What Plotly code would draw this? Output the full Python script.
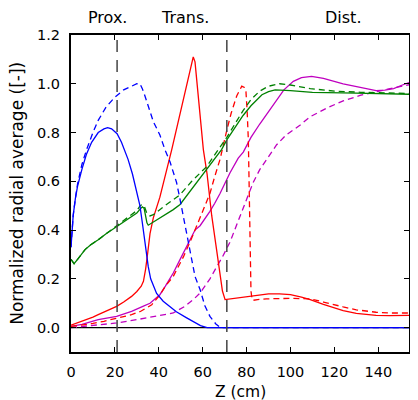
import plotly.graph_objects as go

# ---- data (Z in cm, normalized radial average) ----
blue_solid_z = [0, 0.5, 1, 2, 3, 5, 7, 9.4, 12.4, 15, 16.7, 18.5, 21, 23, 26, 28, 30.5, 31.4, 32.5, 33.7, 34.5, 35.2, 36.3, 37.5, 39, 42, 45, 48, 52.7, 56, 59, 62, 155]
blue_solid_v = [0.33, 0.40, 0.46, 0.53, 0.58, 0.65, 0.71, 0.76, 0.80, 0.815, 0.82, 0.815, 0.795, 0.76, 0.69, 0.63, 0.54, 0.50, 0.43, 0.35, 0.29, 0.25, 0.20, 0.17, 0.14, 0.108, 0.085, 0.065, 0.04, 0.022, 0.008, 0, 0]

blue_dash_z = [0, 1, 2, 3, 5, 7.1, 10, 12.4, 16, 20, 24, 27.6, 30, 31.4, 32.5, 33.7, 35.2, 37.5, 40.5, 42.8, 45.1, 48.1, 49.7, 52, 54.2, 56.5, 58.8, 61, 63.3, 66, 68, 155]
blue_dash_v = [0.33, 0.46, 0.53, 0.59, 0.67, 0.73, 0.80, 0.85, 0.905, 0.945, 0.975, 0.99, 1.0, 1.0, 0.98, 0.95, 0.905, 0.845, 0.79, 0.73, 0.68, 0.595, 0.525, 0.42, 0.32, 0.21, 0.156, 0.09, 0.046, 0.015, 0, 0]

green_solid_z = [0, 0.7, 1.4, 3, 6.4, 9, 12.4, 16, 20.8, 24, 27.6, 30, 31.4, 32.5, 33.3, 34, 34.6, 35.2, 38, 42, 46.6, 49.7, 55.7, 61.8, 66, 68.6, 71, 74, 78.4, 82, 84.6, 87, 90, 93, 100, 110, 130, 154]
green_solid_v = [0.28, 0.268, 0.262, 0.28, 0.32, 0.34, 0.36, 0.385, 0.415, 0.435, 0.456, 0.47, 0.485, 0.495, 0.49, 0.46, 0.43, 0.42, 0.435, 0.458, 0.484, 0.505, 0.575, 0.648, 0.70, 0.73, 0.77, 0.81, 0.87, 0.91, 0.935, 0.955, 0.968, 0.975, 0.972, 0.965, 0.962, 0.957]

green_dash_z = [0, 0.7, 1.4, 3, 6.4, 9, 12.4, 16, 20.8, 24, 27.6, 30, 31.5, 32.5, 33.5, 34.5, 36, 37.5, 42.8, 46.6, 49.7, 55, 61.8, 64.8, 68, 71, 75, 78.4, 82, 86, 90, 95, 100, 109, 120, 132, 154]
green_dash_v = [0.28, 0.268, 0.262, 0.28, 0.32, 0.34, 0.36, 0.385, 0.418, 0.44, 0.465, 0.48, 0.50, 0.505, 0.495, 0.47, 0.458, 0.463, 0.50, 0.525, 0.545, 0.60, 0.66, 0.70, 0.74, 0.78, 0.84, 0.89, 0.935, 0.97, 0.99, 1.0, 0.995, 0.98, 0.97, 0.965, 0.96]

red_solid_z = [0, 5, 10, 12.4, 16, 20.8, 24, 27.6, 30, 32, 33, 34, 35, 36, 37.5, 40.5, 45.9, 50, 53, 55, 55.7, 56.5, 58, 60.3, 62, 64.1, 66, 67.9, 69, 70.2, 75, 80, 85, 90, 95, 100, 105, 109, 115, 120, 124, 130, 135, 139, 145, 154]
red_solid_v = [0.01, 0.025, 0.043, 0.053, 0.068, 0.087, 0.105, 0.128, 0.148, 0.17, 0.19, 0.24, 0.31, 0.385, 0.45, 0.535, 0.73, 0.89, 1.0, 1.085, 1.11, 1.09, 0.95, 0.73, 0.63, 0.46, 0.34, 0.21, 0.15, 0.115, 0.12, 0.128, 0.133, 0.138, 0.138, 0.135, 0.125, 0.115, 0.095, 0.08, 0.07, 0.058, 0.052, 0.05, 0.049, 0.05]

red_dash_z = [0, 5, 10, 15, 20.8, 27.6, 32, 36.8, 40.6, 43, 46.6, 51.2, 55, 59.5, 63.3, 65.5, 67.9, 71, 73, 75.5, 77.8, 79, 79.7, 80.3, 80.8, 81.2, 81.6, 82, 82.5, 83, 85, 89, 100, 109, 115, 120, 124, 130, 139, 145, 154]
red_dash_v = [0.005, 0.01, 0.017, 0.026, 0.038, 0.053, 0.068, 0.094, 0.135, 0.17, 0.21, 0.29, 0.367, 0.47, 0.55, 0.62, 0.69, 0.81, 0.88, 0.95, 0.99, 0.985, 0.97, 0.88, 0.77, 0.566, 0.3, 0.15, 0.115, 0.112, 0.115, 0.118, 0.12, 0.118, 0.105, 0.093, 0.085, 0.073, 0.063, 0.06, 0.06]

mag_solid_z = [0, 5, 12.4, 20.8, 27.6, 31.4, 33, 36, 38, 40.5, 43, 46.6, 50, 52.7, 55, 56.5, 58.8, 61, 63.3, 65.5, 67.9, 72.4, 76.2, 78.5, 82, 86, 90.7, 93.7, 97, 101.3, 105, 109.6, 115, 124, 132, 139, 143, 147, 151, 154]
mag_solid_v = [0.005, 0.013, 0.033, 0.046, 0.067, 0.08, 0.088, 0.10, 0.115, 0.135, 0.17, 0.224, 0.285, 0.333, 0.375, 0.40, 0.418, 0.445, 0.477, 0.51, 0.55, 0.634, 0.695, 0.72, 0.78, 0.835, 0.893, 0.934, 0.975, 1.01, 1.025, 1.03, 1.022, 1.0, 0.985, 0.972, 0.974, 0.98, 0.995, 1.005]

mag_dash_z = [0, 5, 12.4, 20.8, 31.4, 40, 46.6, 52, 55.7, 58.8, 63.3, 66.4, 69, 72.4, 76.2, 80, 83, 86, 90, 93.7, 98, 104.3, 109, 116.5, 124, 131.7, 139.3, 146, 154]
mag_dash_v = [0.0, 0.005, 0.012, 0.019, 0.035, 0.048, 0.06, 0.088, 0.115, 0.142, 0.2, 0.25, 0.29, 0.35, 0.44, 0.53, 0.595, 0.648, 0.70, 0.75, 0.79, 0.83, 0.865, 0.9, 0.93, 0.952, 0.968, 0.982, 0.996]

region_lines = [21, 71]
region_labels = ["Prox.", "Trans.", "Dist."]
region_label_x = [16.8, 51.9, 124]

x_ticks = [0, 20, 40, 60, 80, 100, 120, 140]
y_ticks = [0.0, 0.2, 0.4, 0.6, 0.8, 1.0, 1.2]

BLUE, GREEN, RED, MAG = "#0000ff", "#008000", "#ff0000", "#bf00bf"
FONT = "DejaVu Sans"
LW = 1.3
DASH = "6px,4px"

fig = go.Figure()

def add(z, v, color, dash=None):
    fig.add_trace(go.Scatter(x=z, y=v, mode="lines",
                             line=dict(color=color, width=LW, dash=dash if dash else "solid"),
                             showlegend=False, hoverinfo="skip"))

add(mag_dash_z, mag_dash_v, MAG, DASH)
add(mag_solid_z, mag_solid_v, MAG)
add(red_dash_z, red_dash_v, RED, DASH)
add(red_solid_z, red_solid_v, RED)
add(green_dash_z, green_dash_v, GREEN, DASH)
add(green_solid_z, green_solid_v, GREEN)
add(blue_dash_z, blue_dash_v, BLUE, DASH)
add(blue_solid_z, blue_solid_v, BLUE)

# zero line (extends past the right frame as in the reference)
fig.add_shape(type="line", xref="paper", yref="y", x0=0, x1=1.03, y0=0, y1=0,
              line=dict(color="black", width=1.2), layer="below")

for xl in region_lines:
    fig.add_shape(type="line", xref="x", yref="paper", x0=xl, x1=xl, y0=0, y1=1,
                  line=dict(color="#444444", width=1.5, dash="12px,8px"))

for lab, xl in zip(region_labels, region_label_x):
    fig.add_annotation(x=xl, xref="x", y=1.054, yref="paper", text=lab, showarrow=False,
                       font=dict(family=FONT, size=16, color="black"),
                       xanchor="center", yanchor="middle")

# axis titles as annotations (fixed positions)
fig.add_annotation(x=0.5, xref="paper", y=-0.126, yref="paper", text="Z (cm)", showarrow=False,
                   font=dict(family=FONT, size=15.5, color="black"),
                   xanchor="center", yanchor="middle")
fig.add_annotation(x=-0.162, xref="paper", y=0.5, yref="paper", text="Normalized radial average ([-])",
                   showarrow=False, textangle=-90,
                   font=dict(family=FONT, size=17, color="black"),
                   xanchor="center", yanchor="middle")

axis_common = dict(showline=True, linecolor="black", linewidth=2, mirror="ticks",
                   ticks="inside", ticklen=5, tickwidth=1, tickcolor="black",
                   showgrid=False, zeroline=False, automargin=False,
                   tickfont=dict(family=FONT, size=14.5, color="black"))

fig.update_xaxes(range=[0, 154], tickvals=x_ticks, ticktext=[str(t) for t in x_ticks],
                 ticklabelstandoff=6, **axis_common)
fig.update_yaxes(range=[-0.1, 1.2], tickvals=y_ticks, ticktext=[f"{t:.1f}" for t in y_ticks],
                 ticklabelstandoff=6, **axis_common)

# the page body adds an 8px offset, so margins are reduced on the left/top accordingly
fig.update_layout(width=418, height=400,
                  margin=dict(l=63, r=17, t=27, b=56, pad=0),
                  plot_bgcolor="white", paper_bgcolor="white",
                  font=dict(family=FONT, color="black"),
                  showlegend=False)

fig.write_html("out.html")
